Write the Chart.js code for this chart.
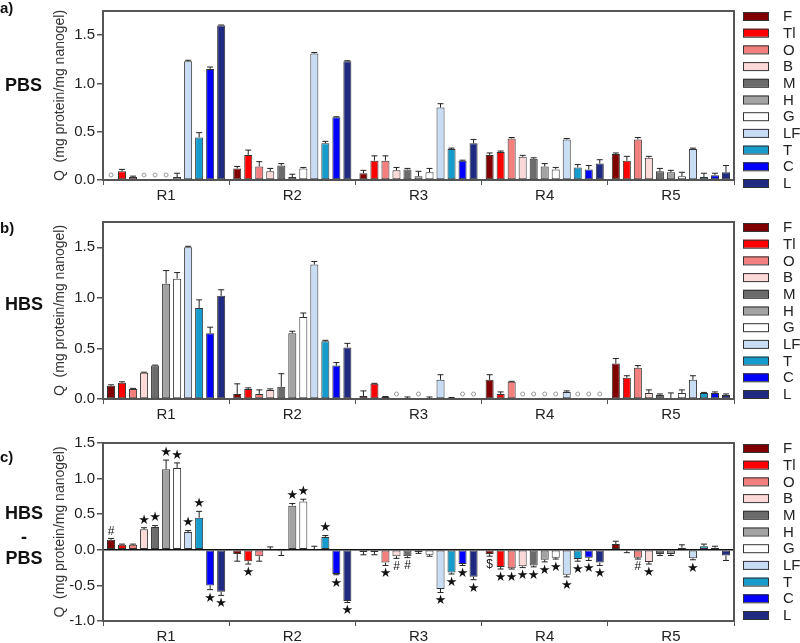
<!DOCTYPE html>
<html>
<head>
<meta charset="utf-8">
<script src="https://cdn.jsdelivr.net/npm/chart.js@4/dist/chart.umd.min.js"></script>
<style>
  body { margin: 0; background: #fff; width: 800px; height: 643px; position: relative; overflow: hidden;
         font-family: "Liberation Sans", Arial, sans-serif; }
  canvas { position: absolute; left: 0; top: 0; }
  .lbl { position: absolute; font-weight: bold; color: #111; line-height: 1; text-align: center; }
</style>
</head>
<body>
<canvas id="chart-a" width="800" height="643"></canvas>
<canvas id="chart-b" width="800" height="643"></canvas>
<canvas id="chart-c" width="800" height="643"></canvas>

<div class="lbl" style="left:0;top:0;font-size:15px">a)</div>
<div class="lbl" style="left:5px;top:76px;font-size:18px">PBS</div>
<div class="lbl" style="left:0;top:220px;font-size:15px">b)</div>
<div class="lbl" style="left:5px;top:295px;font-size:18px">HBS</div>
<div class="lbl" style="left:0;top:449px;font-size:15px">c)</div>
<div class="lbl" style="left:5px;top:504px;font-size:18px;width:38px">HBS</div>
<div class="lbl" style="left:5px;top:528px;font-size:18px;width:38px">-</div>
<div class="lbl" style="left:5px;top:549px;font-size:18px;width:38px">PBS</div>

<script>
const groups = ["R1", "R2", "R3", "R4", "R5"];
const seriesNames = ["F", "Tl", "O", "B", "M", "H", "G", "LF", "T", "C", "L"];
const seriesColors = ["#800000", "#ff0000", "#f47f7f", "#fcd9d9", "#6b6b6b", "#a3a3a3",
                      "#ffffff", "#c8dcf4", "#159ccc", "#0000ff", "#1f2a80"];

// one row per series (F..L), one value per group (R1..R5); null = not detected (drawn as "o")
const pbsMean = [
  [null, 0.12, 0.07, 0.26, 0.27],
  [0.09, 0.26, 0.20, 0.29, 0.20],
  [0.03, 0.14, 0.20, 0.43, 0.42],
  [null, 0.09, 0.10, 0.24, 0.23],
  [null, 0.15, 0.11, 0.22, 0.09],
  [null, 0.03, 0.04, 0.14, 0.08],
  [0.03, 0.12, 0.08, 0.11, 0.04],
  [1.23, 1.31, 0.75, 0.42, 0.32],
  [0.44, 0.38, 0.32, 0.13, 0.03],
  [1.15, 0.65, 0.20, 0.11, 0.05],
  [1.60, 1.23, 0.38, 0.17, 0.08]
];
const pbsErr = [
  [0, 0.02, 0.03, 0.02, 0.01],
  [0.02, 0.05, 0.05, 0.01, 0.045],
  [0.01, 0.05, 0.05, 0.01, 0.02],
  [0, 0.03, 0.03, 0.015, 0.015],
  [0, 0.02, 0.01, 0.01, 0.03],
  [0, 0.03, 0.05, 0.03, 0.02],
  [0.04, 0.01, 0.04, 0.02, 0.04],
  [0.01, 0.01, 0.04, 0.01, 0.01],
  [0.05, 0.02, 0.01, 0.03, 0.04],
  [0.02, 0.005, 0.005, 0.04, 0.02],
  [0.005, 0.005, 0.04, 0.04, 0.07]
];

const hbsMean = [
  [0.13, 0.05, 0.03, 0.19, 0.35],
  [0.16, 0.10, 0.15, 0.05, 0.21],
  [0.10, 0.05, 0.02, 0.17, 0.31],
  [0.26, 0.09, null, null, 0.06],
  [0.33, 0.12, 0.01, null, 0.04],
  [1.14, 0.65, null, null, 0.01],
  [1.19, 0.81, 0.01, null, 0.06],
  [1.50, 1.33, 0.19, 0.07, 0.19],
  [0.90, 0.57, 0.01, null, 0.06],
  [0.65, 0.33, null, null, 0.06],
  [1.02, 0.51, null, null, 0.04]
];
const hbsErr = [
  [0.01, 0.10, 0.05, 0.05, 0.05],
  [0.01, 0.01, 0.005, 0.02, 0.02],
  [0.005, 0.04, 0.005, 0.005, 0.02],
  [0.005, 0.01, 0, 0, 0.03],
  [0.005, 0.13, 0.01, 0, 0.01],
  [0.13, 0.02, 0, 0, 0.05],
  [0.06, 0.04, 0.01, 0, 0.03],
  [0.01, 0.03, 0.05, 0.01, 0.04],
  [0.08, 0.01, 0.005, 0, 0.005],
  [0.06, 0.03, 0, 0, 0.01],
  [0.06, 0.04, 0, 0, 0.01]
];

const diffMean = [
  [0.14, -0.06, -0.03, -0.06, 0.08],
  [0.07, -0.16, -0.03, -0.24, -0.01],
  [0.07, -0.09, -0.18, -0.26, -0.11],
  [0.29, 0.01, -0.09, -0.23, -0.17],
  [0.32, -0.02, -0.09, -0.22, -0.06],
  [1.13, 0.62, -0.03, -0.14, -0.06],
  [1.15, 0.68, -0.07, -0.11, 0.03],
  [0.25, 0.01, -0.55, -0.35, -0.12],
  [0.45, 0.18, -0.32, -0.13, 0.05],
  [-0.50, -0.34, -0.20, -0.11, 0.03],
  [-0.59, -0.72, -0.38, -0.18, -0.08]
];
const diffErr = [
  [0.02, 0.10, 0.04, 0.03, 0.04],
  [0.01, 0.04, 0.04, 0.03, 0.03],
  [0.01, 0.07, 0.04, 0.01, 0.02],
  [0.02, 0.03, 0.03, 0.02, 0.03],
  [0.02, 0.06, 0.02, 0.02, 0.02],
  [0.13, 0.03, 0.02, 0.03, 0.02],
  [0.07, 0.03, 0.02, 0.02, 0.04],
  [0.02, 0.04, 0.05, 0.03, 0.02],
  [0.09, 0.02, 0.02, 0.03, 0.03],
  [0.06, 0.01, 0.02, 0.04, 0.02],
  [0.05, 0.02, 0.04, 0.04, 0.07]
];
const diffMarks = [
  ["#", "", "", "$", ""],
  ["", "*", "", "*", ""],
  ["", "", "*", "*", "#"],
  ["*", "", "#", "*", "*"],
  ["*", "", "#", "*", ""],
  ["*", "*", "", "*", ""],
  ["*", "*", "", "*", ""],
  ["*", "", "*", "*", "*"],
  ["*", "*", "*", "*", ""],
  ["*", "*", "*", "*", ""],
  ["*", "*", "*", "*", ""]
];

const yTicksAB = [0, 0.5, 1.0, 1.5];
const yTicksC = [-1.0, -0.5, 0, 0.5, 1.0, 1.5];

Chart.defaults.font.family = '"Liberation Sans", Arial, sans-serif';

// frame, error bars, "o" markers, significance marks and the legend
const extrasPlugin = {
  id: "extras",
  beforeDatasetsDraw(chart) {
    const { ctx, chartArea: a } = chart;
    ctx.save();
    ctx.strokeStyle = "#555";
    ctx.lineWidth = 2;
    ctx.strokeRect(a.left, a.top, a.right - a.left, a.bottom - a.top);
    ctx.restore();
  },
  afterDatasetsDraw(chart) {
    const { ctx, chartArea: a } = chart;
    const y = chart.scales.y;
    const ex = chart.options.plugins.extras;
    ctx.save();
    chart.data.datasets.forEach((ds, d) => {
      const meta = chart.getDatasetMeta(d);
      meta.data.forEach((bar, i) => {
        const v = ds.data[i];
        if (v === null) {
          ctx.strokeStyle = "#999";
          ctx.lineWidth = 1;
          ctx.beginPath();
          ctx.arc(bar.x, y.getPixelForValue(0) - 5, 2, 0, Math.PI * 2);
          ctx.stroke();
          return;
        }
        const e = ex.errors[d][i];
        const end = y.getPixelForValue(v >= 0 ? v + e : v - e);
        const from = y.getPixelForValue(v);
        ctx.strokeStyle = "#222";
        ctx.lineWidth = 1;
        ctx.beginPath();
        ctx.moveTo(bar.x, from);
        ctx.lineTo(bar.x, end);
        ctx.moveTo(bar.x - 3, end);
        ctx.lineTo(bar.x + 3, end);
        ctx.stroke();
        const m = ex.marks ? ex.marks[d][i] : "";
        if (m) {
          ctx.fillStyle = "#111";
          ctx.textAlign = "center";
          ctx.font = m === "*" ? '13px "DejaVu Sans"' : '12px "Liberation Sans"';
          ctx.textBaseline = v >= 0 ? "bottom" : "top";
          ctx.fillText(m === "*" ? "\u2605" : m, bar.x, v >= 0 ? end - 1 : end + 2);
        }
      });
    });
    // legend
    ctx.font = '15px "Liberation Sans"';
    ctx.textBaseline = "middle";
    ctx.textAlign = "left";
    chart.data.datasets.forEach((ds, d) => {
      const ly = a.top + 5 + d * 16.7;
      ctx.fillStyle = ds.backgroundColor;
      ctx.fillRect(743, ly - 4, 25, 8);
      ctx.strokeStyle = "#333";
      ctx.lineWidth = 1;
      ctx.strokeRect(743.5, ly - 3.5, 25, 8);
      ctx.fillStyle = "#222";
      ctx.fillText(ds.label, 783, ly + 1);
    });
    ctx.restore();
  }
};

function makeChart(id, means, errors, marks, yMin, yMax, yTicks, top, bottom, zeroLine) {
  return new Chart(document.getElementById(id), {
    type: "bar",
    data: {
      labels: groups,
      datasets: seriesNames.map((name, d) => ({
        label: name,
        data: means[d],
        backgroundColor: seriesColors[d],
        borderColor: "#333",
        borderWidth: 1,
        borderSkipped: false,
        categoryPercentage: 0.96,
        barPercentage: 0.73
      }))
    },
    options: {
      responsive: false,
      animation: false,
      layout: { padding: { left: 0, right: 66, top: top, bottom: 0 } },
      plugins: {
        legend: { display: false },
        tooltip: { enabled: false },
        extras: { errors: errors, marks: marks }
      },
      scales: {
        x: {
          grid: { offset: true, drawOnChartArea: false, tickLength: 5, color: "#555" },
          border: { display: false },
          ticks: { font: { size: 15 }, color: "#222", padding: 2 },
          afterFit: (s) => { s.height = 643 - bottom; }
        },
        y: {
          min: yMin,
          max: yMax,
          afterBuildTicks: (s) => { s.ticks = yTicks.map((v) => ({ value: v })); },
          ticks: { font: { size: 15 }, color: "#222", padding: 2, callback: (v) => v.toFixed(1) },
          grid: {
            drawOnChartArea: zeroLine,
            color: (c) => (c.tick && c.tick.value === 0 ? "#111" : "rgba(0,0,0,0)"),
            lineWidth: 1.5,
            tickLength: 6,
            tickColor: "#555"
          },
          border: { display: false },
          title: {
            display: true,
            text: "Q  (mg protein/mg nanogel)",
            font: { size: 14 },
            color: "#333",
            padding: { top: 52, bottom: 0 }
          },
          afterFit: (s) => { s.width = 103; }
        }
      }
    },
    plugins: [extrasPlugin]
  });
}

makeChart("chart-a", pbsMean, pbsErr, null, 0, 1.75, yTicksAB, 3, 180, false);
makeChart("chart-b", hbsMean, hbsErr, null, 0, 1.75, yTicksAB, 222, 399, false);
makeChart("chart-c", diffMean, diffErr, diffMarks, -1.0, 1.5, yTicksC, 443, 621, true);
</script>
</body>
</html>
